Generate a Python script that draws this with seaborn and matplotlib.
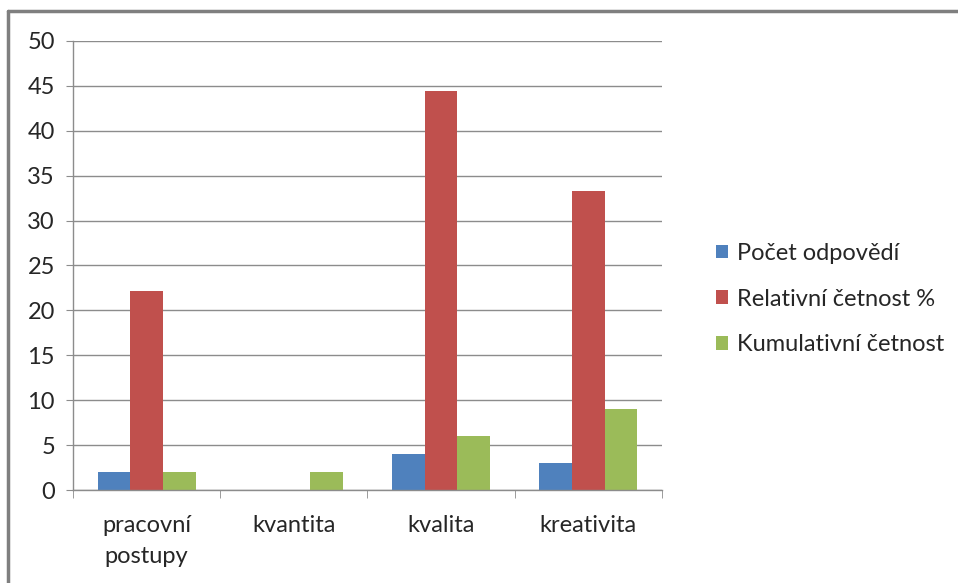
import numpy as np
import pandas as pd
import matplotlib.pyplot as plt
import seaborn as sns
from matplotlib.patches import Patch

# data
categories = ['pracovní\npostupy', 'kvantita', 'kvalita', 'kreativita']
series = ['Počet odpovědí', 'Relativní četnost %', 'Kumulativní četnost']
pocet = [2, 0, 4, 3]
relativni = [22.2, 0, 44.4, 33.3]
kumulativni = [2, 2, 6, 9]
colors = ['#4F81BD', '#C0504D', '#9BBB59']
y_ticks = [0, 5, 10, 15, 20, 25, 30, 35, 40, 45, 50]

df = pd.DataFrame({
    'kategorie': categories * 3,
    'serie': [series[0]] * 4 + [series[1]] * 4 + [series[2]] * 4,
    'hodnota': pocet + relativni + kumulativni,
})

sns.set_style('white')
plt.rcParams['font.family'] = ['Lato', 'DejaVu Sans']

fig = plt.figure(figsize=(9.58, 5.83), dpi=100)
ax = fig.add_axes([0.0762, 0.1595, 0.6148, 0.7702])

sns.barplot(data=df, x='kategorie', y='hodnota', hue='serie',
            order=categories, hue_order=series, palette=colors,
            width=0.667, dodge=True, saturation=1, legend=False,
            linewidth=0, ax=ax)

grid_c = '#8C8C8C'
ax.set_ylim(0, 50)
ax.set_xlim(-0.5, 3.5)
ax.set_yticks(y_ticks)
ax.yaxis.grid(True, color=grid_c, linewidth=1)
ax.set_axisbelow(True)
ax.set_xlabel('')
ax.set_ylabel('')

for s in ['top', 'right']:
    ax.spines[s].set_visible(False)
for s in ['left', 'bottom']:
    ax.spines[s].set_color(grid_c)
    ax.spines[s].set_linewidth(1)

ax.tick_params(axis='y', length=5, color=grid_c, labelsize=17, pad=8, left=True)
ax.tick_params(axis='x', which='major', length=0, labelsize=17, pad=18)
for lab in ax.get_xticklabels():
    lab.set_linespacing(1.6)
ax.set_xticks(np.arange(-0.5, 4, 1), minor=True)
ax.tick_params(axis='x', which='minor', length=6, color=grid_c, bottom=True)

handles = [Patch(facecolor=c, edgecolor='none') for c in colors]
fig.legend(handles, series, loc='center left', bbox_to_anchor=(0.735, 0.487),
           frameon=False, fontsize=17, handlelength=0.5, handleheight=0.5,
           handletextpad=0.4, labelspacing=1.05, borderpad=0)

# frame of the chart area (only top and left visible in the crop)
fig.add_artist(plt.Line2D([0.0088, 0.0088], [0, 0.981], color='#7F7F7F', linewidth=2.5,
                          transform=fig.transFigure))
fig.add_artist(plt.Line2D([0.0088, 1], [0.981, 0.981], color='#7F7F7F', linewidth=2.5,
                          transform=fig.transFigure))

fig.savefig('out.png', dpi=100)
